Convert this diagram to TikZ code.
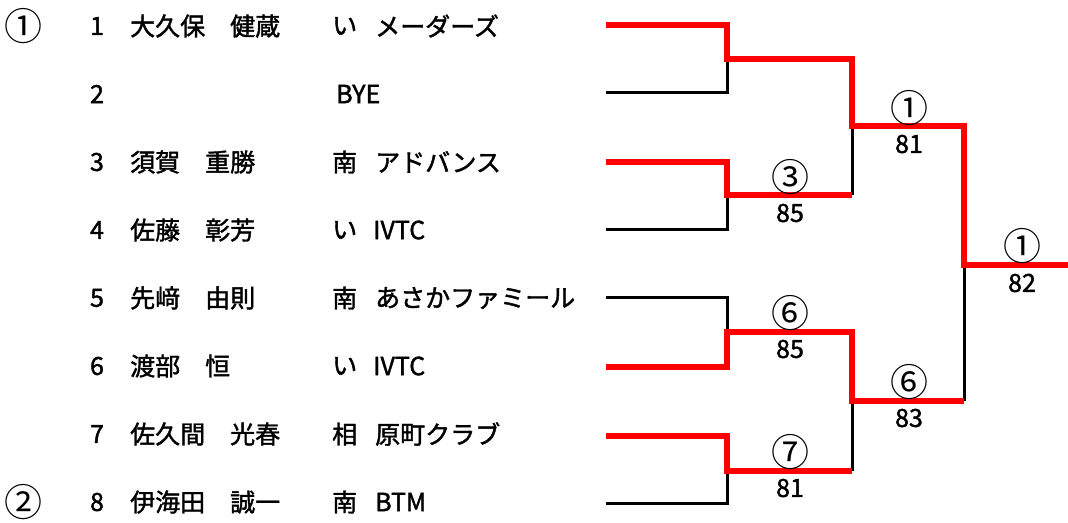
\documentclass[tikz,border=0pt]{standalone}
\usepackage{fontspec}
\newfontfamily\jp[FakeBold=1.6]{Noto Sans CJK JP}
\newfontfamily\jpcirc{Noto Sans CJK JP}
\usetikzlibrary{positioning}
\definecolor{winred}{RGB}{255,0,0}
\tikzset{
  txt/.style={font=\jp\fontsize{25}{25}\selectfont, inner sep=0pt},
  circ/.style={font=\jpcirc\fontsize{38}{38}\selectfont, inner sep=0pt},
  lose/.style={line width=3pt, black},
  win/.style={line width=5.5pt, winred, line join=miter},
}
\begin{document}
\begin{tikzpicture}[x=1pt,y=-1pt]
\useasboundingbox (0,0) rectangle (1068,522);
 % seeds
 \begin{scope}[every node/.style={circ}]
  \node (seed1) at (24,26) {①};
  \node (seed2) at (24,502) {②};
 \end{scope}
 % draw numbers
 \begin{scope}[every node/.style={txt}]
  \node (no1) at (97,26) {1};
  \node (no2) at (97,94) {2};
  \node (no3) at (97,162) {3};
  \node (no4) at (97,230) {4};
  \node (no5) at (97,298) {5};
  \node (no6) at (97,366) {6};
  \node (no7) at (97,434) {7};
  \node (no8) at (97,502) {8};
 \end{scope}
 % players
 \begin{scope}[every node/.style={txt, anchor=west}]
  \node (n1) at (130,26) {大久保　健蔵};
  \node (n3) at (130,162) {須賀　重勝};
  \node (n4) at (130,230) {佐藤　彰芳};
  \node (n5) at (130,298) {先﨑　由則};
  \node (n6) at (130,366) {渡部　恒};
  \node (n7) at (130,434) {佐久間　光春};
  \node (n8) at (130,502) {伊海田　誠一};
 \end{scope}
 % clubs
 \begin{scope}[every node/.style={txt, anchor=west}]
  \node (a1) at (332,26) {い};
  \node (a3) at (332,162) {南};
  \node (a4) at (332,230) {い};
  \node (a5) at (332,298) {南};
  \node (a6) at (332,366) {い};
  \node (a7) at (332,434) {相};
  \node (a8) at (332,502) {南};
  \node (c1) at (375,26) {メーダーズ};
  \node (c2) at (336,94) {BYE};
  \node (c3) at (375,162) {アドバンス};
  \node (c4) at (373,230) {IVTC};
  \node (c5) at (375,298) {あさかファミール};
  \node (c6) at (373,366) {IVTC};
  \node (c7) at (375,434) {原町クラブ};
  \node (c8) at (375,502) {BTM};
 \end{scope}
 % bracket points
  \coordinate (p1) at (606,25);
  \coordinate (p2) at (606,92);
  \coordinate (p3) at (606,162);
  \coordinate (p4) at (606,229);
  \coordinate (p5) at (606,297);
  \coordinate (p6) at (606,367);
  \coordinate (p7) at (606,436);
  \coordinate (p8) at (606,503);
  \coordinate (m1) at (727,59);
  \coordinate (m2) at (727,195);
  \coordinate (m3) at (727,332);
  \coordinate (m4) at (727,471);
  \coordinate (s1) at (852,126);
  \coordinate (s2) at (852,401);
  \coordinate (f) at (964,265);
  \coordinate (champ) at (1068,265);
 % losers
  \draw [lose] (p2) -| (m1);
  \draw [lose] (p4) -| (m2);
  \draw [lose] (p5) -| (m3);
  \draw [lose] (p8) -| (m4);
  \draw [lose] (m2 -| s1) -- (s1);
  \draw [lose] (m4 -| s2) -- (s2);
  \draw [lose] (s2 -| f) -- (f);
 % winners
  \draw [win] (p1) -| (m1) -| (s1) -| (f) -- (champ);
  \draw [win] (p3) -| (m2) -- (m2 -| s1);
  \draw [win] (p6) -| (m3) -| (s2) -- (s2 -| f);
  \draw [win] (p7) -| (m4) -- (m4 -| s2);
 % results
 \begin{scope}[every node/.style={circ}]
  \node (w2) at (790,177) {③};
  \node (w3) at (790,313) {⑥};
  \node (w4) at (790,452) {⑦};
  \node (w5) at (909,108) {①};
  \node (w6) at (909,382) {⑥};
  \node (w7) at (1022,246) {①};
 \end{scope}
 \begin{scope}[every node/.style={txt}]
  \node (r2) at (790,213) {85};
  \node (r3) at (790,349) {85};
  \node (r4) at (790,488) {81};
  \node (r5) at (909,144) {81};
  \node (r6) at (909,418) {83};
  \node (r7) at (1022,283) {82};
 \end{scope}
\end{tikzpicture}
\end{document}
